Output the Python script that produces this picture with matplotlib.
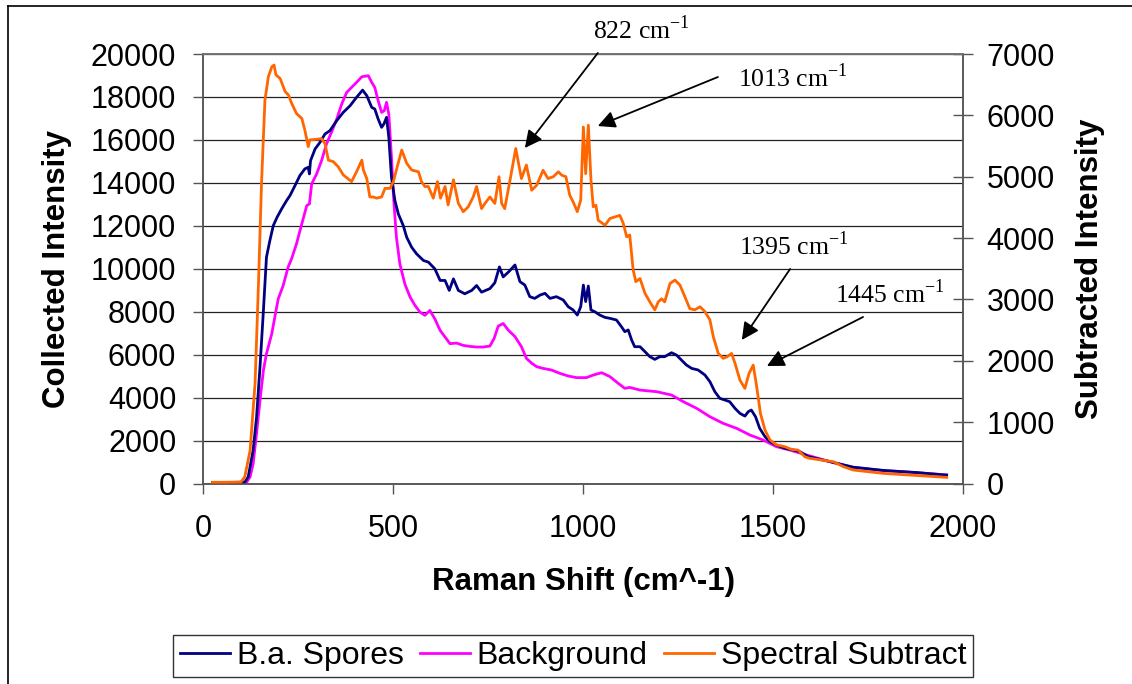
import matplotlib
matplotlib.use("Agg")
import matplotlib.pyplot as plt
from matplotlib.lines import Line2D
import numpy as np

plt.rcParams['font.family'] = ['Liberation Sans', 'DejaVu Sans']
plt.rcParams['mathtext.fontset'] = 'custom'
plt.rcParams['mathtext.rm'] = 'Liberation Serif'

# ---------------- data ----------------
spores_x = [25, 80, 110, 119, 132, 141, 150, 159, 167, 176, 185, 195, 207, 220, 229, 242, 255, 268, 277, 280,
            283, 295, 308, 321, 334, 352, 369, 387, 404, 420, 431, 444, 452, 461, 470, 476, 483, 489, 496, 505,
            514, 527, 536, 549, 562, 580, 593, 610, 624, 637, 648, 659, 672, 689, 707, 720, 733, 755, 768, 780,
            790, 804, 821, 834, 847, 860, 873, 887, 900, 913, 930, 948, 961, 974, 985, 994, 1001, 1007, 1014, 1021,
            1031, 1044, 1058, 1071, 1088, 1101, 1110, 1119, 1128, 1136, 1150, 1163, 1176, 1189, 1202, 1215, 1233, 1246, 1259, 1272,
            1286, 1303, 1321, 1334, 1347, 1360, 1373, 1386, 1400, 1413, 1426, 1435, 1443, 1454, 1465, 1479, 1492, 1509, 1531, 1553,
            1571, 1593, 1659, 1711, 1790, 1878, 1957]
spores_y = [50, 50, 60, 310, 1550, 3100, 5425, 8060, 10540, 11315, 12010, 12400, 12790, 13175, 13410, 13870, 14340, 14650, 14725, 14415,
            15035, 15580, 15890, 16275, 16430, 16900, 17280, 17590, 17980, 18320, 18060, 17515, 17440, 16970, 16585, 16740, 17050, 16120, 14260, 13175,
            12555, 12010, 11470, 11005, 10695, 10385, 10310, 10000, 9455, 9455, 8990, 9530, 8990, 8835, 8990, 9220, 8910, 9075, 9350, 10085,
            9620, 9850, 10175, 9400, 9240, 8700, 8620, 8775, 8855, 8620, 8700, 8545, 8235, 8080, 7845, 8235, 9240, 8470, 9195, 8080,
            8000, 7845, 7735, 7690, 7615, 7305, 7070, 7150, 6680, 6370, 6370, 6140, 5905, 5780, 5905, 5905, 6090, 5980, 5750, 5520,
            5360, 5285, 5050, 4740, 4275, 3965, 3890, 3810, 3500, 3265, 3140, 3345, 3420, 3110, 2570, 2180, 1950, 1790, 1640, 1560,
            1480, 1250, 980, 760, 610, 510, 390]

background_x = [25, 80, 115, 124, 132, 141, 150, 159, 167, 181, 189, 198, 211, 224, 233, 246, 260, 273, 280, 286,
                299, 312, 325, 338, 352, 365, 378, 391, 404, 418, 435, 444, 452, 461, 470, 477, 483, 489, 496, 502,
                509, 518, 531, 545, 558, 571, 584, 597, 610, 624, 637, 650, 667, 685, 702, 720, 737, 755, 766, 777,
                790, 803, 821, 838, 851, 865, 878, 895, 917, 939, 961, 983, 1009, 1027, 1049, 1071, 1093, 1110, 1123, 1150,
                1194, 1233, 1264, 1299, 1334, 1369, 1404, 1439, 1474, 1509, 1544, 1579, 1659, 1711, 1790, 1878, 1957]
background_y = [50, 50, 60, 310, 930, 2325, 3875, 5270, 6045, 6975, 7750, 8600, 9220, 10075, 10460, 11160, 12090, 12940, 13020, 13950,
                14415, 15035, 15810, 16350, 16970, 17670, 18210, 18445, 18680, 18940, 18990, 18680, 18445, 17825, 17280, 17360, 17750, 17200, 15190, 13175,
                11470, 10230, 9300, 8680, 8290, 7980, 7830, 8060, 7670, 7130, 6820, 6510, 6540, 6430, 6385, 6355, 6355, 6400, 6750, 7330,
                7450, 7150, 6840, 6370, 5830, 5600, 5440, 5360, 5285, 5130, 5005, 4930, 4930, 5050, 5160, 4975, 4660, 4430, 4475, 4350,
                4275, 4120, 3810, 3500, 3110, 2800, 2570, 2260, 2025, 1715, 1560, 1375, 970, 750, 600, 505, 400]

subtract_x = [25, 60, 100, 110, 124, 137, 146, 154, 163, 172, 181, 187, 192, 203, 216, 225, 233, 246, 260, 268,
              277, 281, 299, 312, 321, 330, 343, 356, 369, 391, 404, 418, 422, 431, 439, 448, 457, 470, 479, 492,
              501, 511, 523, 536, 549, 567, 575, 584, 593, 606, 617, 625, 637, 645, 659, 672, 685, 698, 711, 720,
              733, 742, 755, 768, 779, 786, 794, 808, 823, 838, 851, 865, 878, 895, 908, 922, 935, 944, 955, 965,
              974, 985, 994, 1001, 1007, 1014, 1021, 1027, 1034, 1040, 1058, 1071, 1084, 1097, 1106, 1115, 1123, 1132, 1139, 1150,
              1163, 1176, 1189, 1198, 1207, 1215, 1229, 1242, 1255, 1268, 1281, 1294, 1308, 1321, 1334, 1343, 1356, 1369, 1379, 1391,
              1400, 1413, 1426, 1437, 1448, 1457, 1467, 1479, 1492, 1509, 1531, 1549, 1566, 1584, 1597, 1659, 1685, 1711, 1790, 1878,
              1957]
subtract_y = [20, 20, 25, 108, 543, 1630, 3260, 4890, 6250, 6630, 6790, 6820, 6660, 6600, 6390, 6330, 6200, 6030, 5950, 5760,
              5490, 5600, 5610, 5620, 5540, 5270, 5245, 5160, 5030, 4920, 5080, 5270, 5110, 4970, 4670, 4670, 4650, 4670, 4810, 4810,
              4920, 5160, 5435, 5220, 5110, 5080, 4920, 4840, 4840, 4650, 4920, 4650, 4840, 4540, 4950, 4565, 4430, 4510, 4670, 4840,
              4480, 4565, 4670, 4565, 5000, 4565, 4480, 4945, 5460, 4970, 5190, 4780, 4860, 5105, 4970, 5000, 5080, 5025, 5000, 4700,
              4590, 4430, 4620, 5810, 5050, 5840, 4945, 4510, 4535, 4290, 4210, 4320, 4345, 4370, 4240, 4020, 4050, 3480, 3290, 3340,
              3100, 2960, 2830, 2960, 3010, 2960, 3260, 3315, 3235, 3045, 2850, 2830, 2880, 2800, 2665, 2390, 2120, 2040, 2065, 2120,
              1960, 1685, 1550, 1795, 1930, 1580, 1140, 870, 710, 630, 600, 555, 545, 435, 410, 355, 275, 220, 165, 130,
              100]

series_labels = ['B.a. Spores', 'Background', 'Spectral Subtract']
series_colors = ['#000080', '#FF00FF', '#FF6600']

x_ticks = [0, 500, 1000, 1500, 2000]
left_ticks = list(range(0, 20001, 2000))
right_ticks = list(range(0, 7001, 1000))

# peak annotations: (label, text x, text y, arrow start x, y, arrow tip x, y) in right-axis data units
peak_labels = ['822', '1013', '1395', '1445']
peak_text_xy = [(1026, 7244), (1408, 6462), (1411, 3724), (1663, 2942)]
peak_arrow_from = [(1039, 7016), (1355, 6625), (1545, 3496), (1737, 2714)]
peak_arrow_to = [(847, 5468), (1039, 5826), (1418, 2339), (1484, 1915)]

# ---------------- figure ----------------
W, H = 1132, 684
fig = plt.figure(figsize=(W / 100, H / 100), dpi=100)
fig.patch.set_facecolor('white')

x0, x1, y0, y1 = 203, 963, 54, 483.5
ax = fig.add_axes([x0 / W, 1 - y1 / H, (x1 - x0) / W, (y1 - y0) / H])
ax2 = ax.twinx()

l1, = ax.plot(spores_x, spores_y, color=series_colors[0], lw=2.0, zorder=3)
l2, = ax.plot(background_x, background_y, color=series_colors[1], lw=2.0, zorder=2)
l3, = ax2.plot(subtract_x, subtract_y, color=series_colors[2], lw=2.0, zorder=4)

ax.set_xlim(0, 2000)
ax.set_ylim(0, 20000)
ax2.set_ylim(0, 7000)
ax.set_xticks(x_ticks)
ax.set_yticks(left_ticks)
ax2.set_yticks(right_ticks)

ax.grid(axis='y', color='#222222', lw=0.9)
ax.set_axisbelow(True)

spine_col = '#555555'
for a in (ax, ax2):
    for s in a.spines.values():
        s.set_color(spine_col)
        s.set_linewidth(1.1)
ax2.spines['top'].set_color('#777777')

ax.tick_params(axis='x', direction='out', length=7.2, width=1.0, color=spine_col,
               labelsize=22, pad=15)
ax.tick_params(axis='y', direction='out', length=7.2, width=1.0, color=spine_col,
               labelsize=22, pad=12)
ax2.tick_params(axis='y', direction='inout', length=14, width=1.0, color=spine_col,
                labelsize=22, pad=10)

ax.set_xlabel('Raman Shift (cm^-1)', fontsize=22.5, fontweight='bold', va='center')
ax.xaxis.set_label_coords(0.5, (y1 - 582) / (y1 - y0))
ax.set_ylabel('Collected Intensity', fontsize=22.5, fontweight='bold', va='center')
ax.yaxis.set_label_coords((57 - x0) / (x1 - x0), 0.5)
ax2.set_ylabel('Subtracted Intensity', fontsize=22.5, fontweight='bold', va='center', rotation=90)
ax2.yaxis.set_label_coords((1090 - x0) / (x1 - x0), 0.5)

# annotations
for lab, txy, afrom, ato in zip(peak_labels, peak_text_xy, peak_arrow_from, peak_arrow_to):
    ax2.text(txy[0], txy[1], lab + r' cm$^{\mathrm{-1}}$', fontsize=18.5,
             family='Liberation Serif', ha='left', va='baseline', clip_on=False, zorder=6)
    ax2.annotate('', xy=ato, xytext=afrom, annotation_clip=False,
                 arrowprops=dict(arrowstyle='-|>', color='black', lw=1.3,
                                 mutation_scale=26, shrinkA=0, shrinkB=0), zorder=6)

# legend
leg = fig.legend([l1, l2, l3], series_labels, loc='center',
                 bbox_to_anchor=((171 + 975) / 2 / W, 1 - 656 / H),
                 ncol=3, fontsize=23, frameon=True, fancybox=False,
                 handlelength=1.57, handletextpad=0.22, columnspacing=0.5,
                 borderpad=0.2, borderaxespad=0)
leg.get_frame().set_edgecolor('black')
leg.get_frame().set_linewidth(1.0)
for h in leg.get_lines():
    h.set_linewidth(2.0)

# outer chart border (top and left visible)
fig.add_artist(Line2D([8 / W, 1], [1 - 6 / H, 1 - 6 / H], color='black', lw=1.2, transform=fig.transFigure))
fig.add_artist(Line2D([8 / W, 8 / W], [0, 1 - 6 / H], color='black', lw=1.2, transform=fig.transFigure))

fig.savefig('out.png', dpi=100, facecolor='white')
